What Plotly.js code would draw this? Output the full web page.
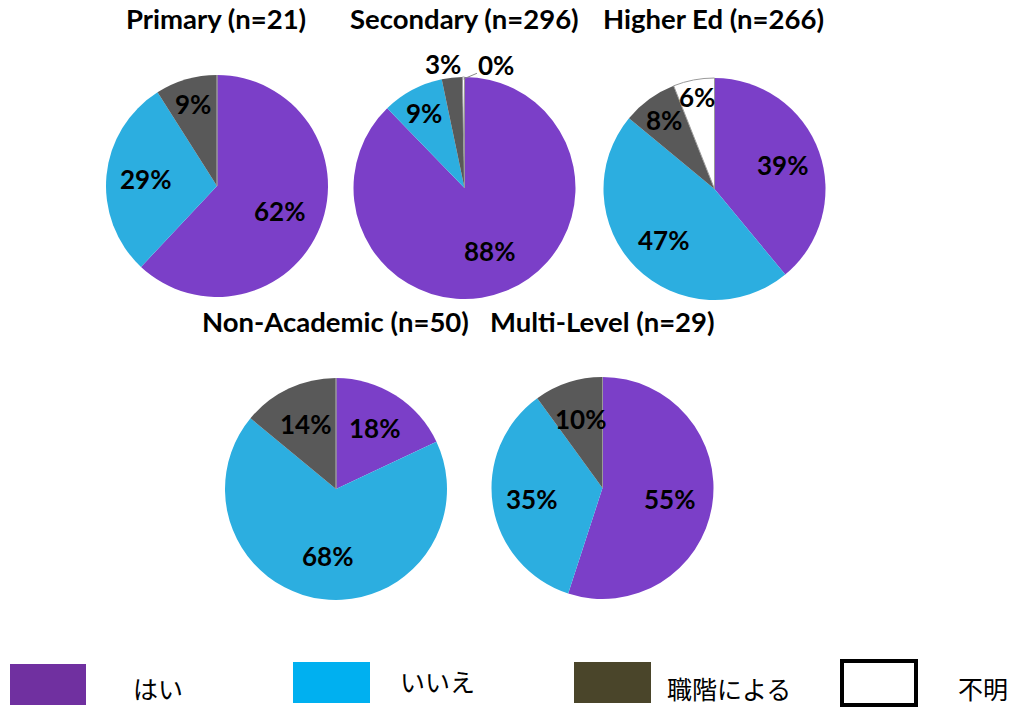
<!DOCTYPE html>
<html><head><meta charset="utf-8">
<script src="https://cdn.plot.ly/plotly-3.0.1.min.js"></script>
<style>html,body{margin:0;padding:0;background:#fff;}#chart{width:1011px;height:710px;}</style>
</head><body><div id="chart"></div>
<script>
const categories = ['はい', 'いいえ', '職階による', '不明'];
const groups = ['Primary (n=21)', 'Secondary (n=296)', 'Higher Ed (n=266)', 'Non-Academic (n=50)', 'Multi-Level (n=29)'];
const primary = [62, 29, 9, 0];
const secondary = [88, 9, 3, 0.3];
const higherEd = [39, 47, 8, 6];
const nonAcademic = [18, 68, 14, 0];
const multiLevel = [55, 35, 10, 0];
const seriesValues = [primary, secondary, higherEd, nonAcademic, multiLevel];

const pieColors = ['#7B3FC8', '#2CAEE0', '#595959', '#FFFFFF'];
const legendColors = ['#7030A0', '#00B0F0', '#4A452A', '#FFFFFF'];
const W = 1011, H = 710;
const geo = [
  {cx: 217, cy: 186}, {cx: 464.5, cy: 188}, {cx: 714.5, cy: 189},
  {cx: 336, cy: 489}, {cx: 602.5, cy: 488}
];
const R = 111;
const FONT = 'Lato, Carlito, Calibri, sans-serif';
const labelFont = {family: FONT, size: 26, color: '#000', weight: 'bold'};

const data = seriesValues.map((vals, i) => {
  const g = geo[i];
  return {
    type: 'pie', values: vals, labels: categories, sort: false,
    direction: 'clockwise', rotation: 0, textinfo: 'none',
    hoverinfo: 'none', showlegend: false,
    marker: {colors: pieColors, line: {color: ['#fff', '#fff', '#fff', '#999'], width: [0, 0, 0, 1]}},
    domain: {x: [(g.cx - R) / W, (g.cx + R) / W], y: [1 - (g.cy + R) / H, 1 - (g.cy - R) / H]}
  };
});

const annotations = [];
seriesValues.forEach((vals, i) => {
  const g = geo[i];
  const total = vals.reduce((a, b) => a + b, 0);
  let cum = 0;
  vals.forEach((v, j) => {
    const frac = v / total;
    const mid = (cum + frac / 2) * 2 * Math.PI;
    cum += frac;
    if (v <= 0) return;
    const pct = Math.round(frac * 100) + '%';
    const outside = i === 1 && j >= 2;
    if (!outside) {
      const k = frac < 0.07 ? 0.84 : frac < 0.1 ? 0.77 : frac > 0.5 ? 0.61 : 0.65;
      const px = g.cx + Math.sin(mid) * k * R, py = g.cy - Math.cos(mid) * k * R;
      annotations.push({text: pct, x: px / W, y: 1 - py / H, xref: 'paper', yref: 'paper',
        showarrow: false, font: labelFont, xanchor: 'center', yanchor: 'middle'});
    } else if (j === 2) {
      const k = 1.12;
      const px = g.cx + Math.sin(mid) * k * R - 8, py = g.cy - Math.cos(mid) * k * R;
      annotations.push({text: pct, x: px / W, y: 1 - py / H, xref: 'paper', yref: 'paper',
        showarrow: false, font: labelFont, xanchor: 'center', yanchor: 'middle'});
    } else {
      const px = g.cx + Math.sin(mid) * R, py = g.cy - Math.cos(mid) * R + 2;
      annotations.push({text: pct, x: px / W, y: 1 - py / H, xref: 'paper', yref: 'paper',
        showarrow: true, arrowhead: 0, arrowwidth: 1, arrowcolor: '#888', ax: 33, ay: -14,
        font: labelFont, xanchor: 'center', yanchor: 'middle'});
    }
  });
});

const titlePos = [[216, 19], [464, 19], [713, 19], [335, 321], [602, 321]];
const titleFont = {family: FONT, size: 27.5, color: '#000', weight: 'bold'};
groups.forEach((t, i) => annotations.push({
  text: t, x: titlePos[i][0] / W, y: 1 - titlePos[i][1] / H,
  xref: 'paper', yref: 'paper', showarrow: false, font: titleFont, xanchor: 'center', yanchor: 'middle'
}));

const legBoxes = [[10, 664, 86, 705], [293, 662, 370, 703], [574, 662, 651, 703], [842, 661, 916, 705]];
const legText = [[158, 688], [437, 681], [729, 688], [983, 688]];
const shapes = [];
categories.forEach((c, i) => {
  const b = legBoxes[i];
  shapes.push({type: 'rect', xref: 'paper', yref: 'paper',
    x0: b[0] / W, x1: b[2] / W, y0: 1 - b[3] / H, y1: 1 - b[1] / H,
    fillcolor: legendColors[i], line: {color: i === 3 ? '#000' : legendColors[i], width: i === 3 ? 4 : 0}});
  annotations.push({text: c, x: legText[i][0] / W, y: 1 - legText[i][1] / H, xref: 'paper', yref: 'paper',
    showarrow: false, xanchor: 'center', yanchor: 'middle',
    font: {family: 'Noto Sans CJK JP, sans-serif', size: 25, color: '#000'}});
});

Plotly.newPlot('chart', data, {
  width: W, height: H, margin: {l: 0, r: 0, t: 0, b: 0},
  paper_bgcolor: '#fff', annotations: annotations, shapes: shapes
}, {displayModeBar: false, staticPlot: true});
</script></body></html>
